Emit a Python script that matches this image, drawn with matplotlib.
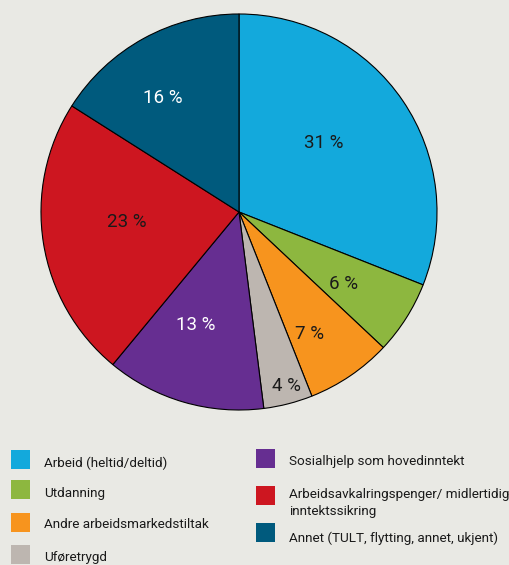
import numpy as np
import matplotlib.pyplot as plt
from matplotlib.patches import Rectangle

# data
labels = ["Arbeid (heltid/deltid)", "Utdanning", "Andre arbeidsmarkedstiltak",
          "Uføretrygd", "Sosialhjelp som hovedinntekt",
          "Arbeidsavkalringspenger/ midlertidig\ninntektssikring",
          "Annet (TULT, flytting, annet, ukjent)"]
values = [31, 6, 7, 4, 13, 23, 16]
colors = ["#13a9dc", "#8db73f", "#f7941e", "#bdb6b0", "#662e91", "#cd1620", "#005a7d"]
text_colors = ["#1a1a1a", "#1a1a1a", "#1a1a1a", "#1a1a1a", "white", "#1a1a1a", "white"]

# label placement tweaks (radius fraction, angle offset in degrees)
label_r = [0.55, 0.64, 0.71, 0.91, 0.61, 0.57, 0.69]
label_dang = [5, -2, -4, 1, -5, -4, 5]

bg = "#e9e9e4"
W, H = 510, 565
fig = plt.figure(figsize=(W / 100, H / 100), dpi=100, facecolor=bg)
plt.rcParams["font.family"] = ["Roboto", "DejaVu Sans"]

ax = fig.add_axes([40 / W, 1 - 411 / H, 398 / W, 398 / H])
ax.set_facecolor(bg)
wedges, _ = ax.pie(values, colors=colors, startangle=90, counterclock=False,
                   wedgeprops=dict(edgecolor="black", linewidth=0.8))
ax.set_xlim(-1.005, 1.005)
ax.set_ylim(-1.005, 1.005)
ax.set_aspect("equal")
ax.axis("off")

for w, v, tc, r, da in zip(wedges, values, text_colors, label_r, label_dang):
    ang = np.deg2rad((w.theta1 + w.theta2) / 2 + da)
    ax.text(r * np.cos(ang), r * np.sin(ang), f"{v} %", ha="center", va="center",
            fontsize=13.5, color=tc)

# legend, drawn by hand in two columns
sq = 19
left_col = [(11, 450, 463), (11, 480, 493), (11, 513, 525), (11, 545, 558)]
right_col = [(256, 449, 461), (256, 486, 503), (256, 523, 538)]
for i, (x, ytop, ytxt) in enumerate(left_col + right_col):
    fig.patches.append(Rectangle((x / W, 1 - (ytop + sq) / H), sq / W, sq / H,
                                 transform=fig.transFigure, facecolor=colors[i],
                                 edgecolor="none"))
    fig.text((x + 33) / W, 1 - ytxt / H, labels[i], ha="left", va="center",
             fontsize=9.7, color="#1a1a1a", linespacing=1.45)

fig.savefig("out.png", dpi=100, facecolor=bg)
